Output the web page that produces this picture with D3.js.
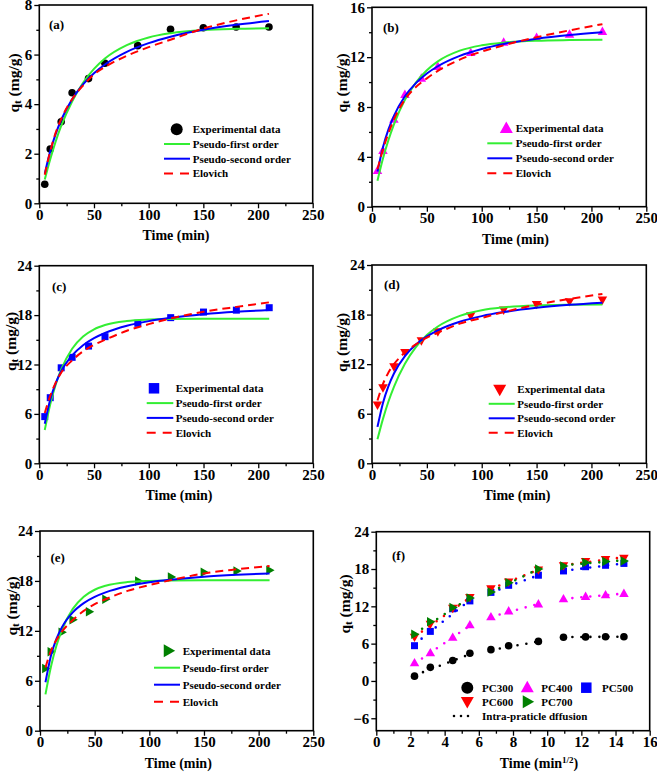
<!DOCTYPE html>
<html><head><meta charset="utf-8">
<script src="https://cdn.jsdelivr.net/npm/d3@7"></script>
<style>
body{margin:0;background:#fff}
svg{display:block;background:#fff}
text{font-family:"Liberation Serif","Times New Roman",serif;font-weight:bold;fill:#000}
</style>
</head><body><svg id="c" width="657" height="772"></svg>
<script>
// ---------- DATA ----------
const times = [5, 10, 20, 30, 45, 60, 90, 120, 150, 180, 210];
const expPC300 = [0.77, 2.19, 3.29, 4.46, 5.03, 5.65, 6.36, 7.02, 7.08, 7.11, 7.11];
const expPC400 = [2.9, 4.5, 7.0, 9.0, 10.3, 11.24, 12.36, 13.19, 13.57, 13.83, 14.05];
const expPC500 = [5.67, 7.97, 11.6, 12.87, 14.24, 15.38, 17.0, 17.69, 18.37, 18.6, 18.9];
const expPC600 = [7.06, 9.16, 11.7, 13.43, 14.84, 15.93, 17.87, 18.56, 19.24, 19.57, 19.77];
const expPC700 = [7.49, 9.5, 11.82, 13.34, 14.3, 15.8, 17.99, 18.47, 19.03, 19.19, 19.27];

const fitTimes = [5, 10, 15, 20, 30, 40, 50, 60, 80, 100, 120, 150, 180, 210];
const pfo300 = [0.96, 1.78, 2.50, 3.12, 4.11, 4.86, 5.42, 5.84, 6.38, 6.69, 6.86, 6.99, 7.04, 7.06];
const pso300 = [1.2, 2.1, 2.8, 3.36, 4.2, 4.8, 5.25, 5.6, 6.11, 6.46, 6.72, 7.0, 7.2, 7.35];
const elo300 = [1.15, 2.1, 2.85, 3.4, 4.2, 4.75, 5.2, 5.5, 5.95, 6.3, 6.6, 7.05, 7.38, 7.65];
const pfo400 = [2.09, 3.86, 5.35, 6.61, 8.57, 9.96, 10.95, 11.66, 12.52, 12.95, 13.17, 13.32, 13.37, 13.39];
const pso400 = [2.82, 4.77, 6.2, 7.29, 8.86, 9.92, 10.69, 11.27, 12.1, 12.65, 13.05, 13.48, 13.78, 14.0];
const elo400 = [3.0, 4.6, 5.9, 7.0, 8.6, 9.6, 10.3, 10.9, 11.8, 12.45, 12.95, 13.6, 14.15, 14.65];
const pfo500 = [4.05, 7.17, 9.57, 11.41, 13.92, 15.4, 16.28, 16.8, 17.29, 17.46, 17.52, 17.55, 17.55, 17.55];
const pso500 = [4.81, 7.75, 9.74, 11.18, 13.1, 14.34, 15.2, 15.83, 16.7, 17.27, 17.67, 18.1, 18.4, 18.61];
const elo500 = [6.1, 8.2, 9.8, 11.0, 12.5, 13.6, 14.4, 15.0, 16.1, 16.9, 17.6, 18.4, 19.0, 19.55];
const pfo600 = [2.91, 5.38, 7.48, 9.26, 12.05, 14.07, 15.52, 16.56, 17.85, 18.53, 18.87, 19.11, 19.2, 19.23];
const pso600 = [4.41, 7.31, 9.35, 10.87, 12.98, 14.37, 15.36, 16.1, 17.13, 17.81, 18.3, 18.82, 19.18, 19.44];
const elo600 = [7.6, 9.6, 11.0, 12.0, 13.4, 14.4, 15.2, 15.8, 16.9, 17.6, 18.3, 19.2, 19.9, 20.5];
const pfo700 = [4.37, 7.69, 10.2, 12.1, 14.64, 16.1, 16.94, 17.42, 17.86, 18.0, 18.05, 18.07, 18.07, 18.07];
const pso700 = [5.82, 9.01, 11.03, 12.42, 14.22, 15.33, 16.08, 16.62, 17.35, 17.83, 18.15, 18.5, 18.73, 18.9];
const elo700 = [7.6, 9.6, 10.9, 11.9, 13.3, 14.4, 15.2, 15.8, 16.8, 17.5, 18.1, 18.9, 19.4, 19.8];

// intra-particle diffusion: three linear stages, x = t^(1/2)
const ipdStageX = [[2.24, 5.48], [6.71, 9.49], [10.95, 14.49]];
const ipd300 = [[0.9, 4.3], [4.95, 6.35], [7.05, 7.12]];
const ipd400 = [[2.8, 8.9], [10.3, 12.4], [13.2, 14.05]];
const ipd500 = [[5.9, 13.0], [14.2, 17.0], [17.7, 18.9]];
const ipd600 = [[7.1, 13.4], [14.8, 17.9], [18.6, 19.9]];
const ipd700 = [[7.6, 13.4], [14.3, 18.0], [18.6, 19.4]];

const seriesNames = ["PC300", "PC400", "PC500", "PC600", "PC700"];
const fitNames = ["Experimental data", "Pseudo-first order", "Pseudo-second order", "Elovich"];
const panelLabels = ["(a)", "(b)", "(c)", "(d)", "(e)", "(f)"];
const xTicksTime = [0, 50, 100, 150, 200, 250];
const xMinorTime = [25, 75, 125, 175, 225];
const xTicksSqrt = [0, 2, 4, 6, 8, 10, 12, 14, 16];
const xMinorSqrt = [1, 3, 5, 7, 9, 11, 13, 15];

// ---------- STYLE ----------
const GREEN = "#33ee33", BLUE = "#0000ff", RED = "#ff0000";
const MCOL = ["#000000", "#ff00ff", "#0000ff", "#ff0000", "#008000"];
const MSHAPE = ["circle", "up", "square", "down", "right"];

const svg = d3.select("#c");

function shapePath(shape, s) {
  if (shape === "circle") return d3.symbol(d3.symbolCircle, Math.PI * (s / 2) * (s / 2))();
  if (shape === "square") return `M${-s/2},${-s/2}h${s}v${s}h${-s}Z`;
  const h = s * 0.88;
  if (shape === "up") return `M0,${-h*0.6}L${s/2},${h*0.4}L${-s/2},${h*0.4}Z`;
  if (shape === "down") return `M0,${h*0.6}L${s/2},${-h*0.4}L${-s/2},${-h*0.4}Z`;
  if (shape === "right") return `M${h*0.6},0L${-h*0.4},${s/2}L${-h*0.4},${-s/2}Z`;
}

function frame(p) {
  const x = d3.scaleLinear().domain(p.xdom).range([p.x0, p.x1]);
  const y = d3.scaleLinear().domain(p.ydom).range([p.yb, p.yt]);
  const g = svg.append("g");
  const ax = (sel) => { sel.select(".domain").remove(); sel.attr("font-size", null).attr("font-family", null);
    sel.selectAll("line").attr("stroke", "#000").attr("stroke-width", 1.3);
    sel.selectAll("text").style("font-size", "15px"); };
  g.append("g").attr("transform", `translate(0,${p.yb})`)
    .call(d3.axisBottom(x).tickValues(p.xt).tickSize(5).tickPadding(1).tickFormat(d3.format("d"))).call(ax);
  g.append("g").attr("transform", `translate(0,${p.yb})`)
    .call(d3.axisBottom(x).tickValues(p.xm).tickSize(3).tickFormat("")).call(ax);
  g.append("g").attr("transform", `translate(${p.x0},0)`)
    .call(d3.axisLeft(y).tickValues(p.yt_).tickSize(5).tickPadding(2).tickFormat(d3.format("d"))).call(ax);
  g.append("g").attr("transform", `translate(${p.x0},0)`)
    .call(d3.axisLeft(y).tickValues(p.ym).tickSize(3).tickFormat("")).call(ax);
  g.append("rect").attr("x", p.x0).attr("y", p.yt).attr("width", p.x1 - p.x0).attr("height", p.yb - p.yt)
    .attr("fill", "none").attr("stroke", "#000").attr("stroke-width", 1.6);
  // axis titles
  const xt = g.append("text").attr("x", p.xtc).attr("y", p.yb + 37).attr("text-anchor", "middle").style("font-size", "14px");
  xt.append("tspan").text(p.sqrt ? "Time (min" : "Time (min)");
  if (p.sqrt) {
    xt.append("tspan").attr("dy", -5).style("font-size", "9px").text("1/2");
    xt.append("tspan").attr("dy", 5).text(")");
  }
  const yt = g.append("text").attr("transform", `translate(${p.ytx},${p.yty}) rotate(-90)`)
    .attr("text-anchor", "middle").attr("dominant-baseline", "central").style("font-size", "15.5px");
  yt.append("tspan").text("q");
  yt.append("tspan").attr("dy", 4).style("font-size", "11px").text("t");
  yt.append("tspan").attr("dy", -4).text(" (mg/g)");
  g.append("text").attr("x", p.lx).attr("y", p.ly).style("font-size", "13px").text(p.label);
  return { x, y, g };
}

const panels = [
  { x0: 39.3, x1: 312.7, yb: 203.3, yt: 5, ydom: [0, 8], yt_: [0, 2, 4, 6, 8], ym: [1, 3, 5, 7],
    xtc: 176, ytx: 13, yty: 83, lx: 49, ly: 29, si: 0, fits: [pfo300, pso300, elo300],
    leg: { mx: 176.7, my: 129.3, tx: 192.7, dy: 14.7, l0: 164, l1: 190 } },
  { x0: 372, x1: 646.3, yb: 206.7, yt: 7.3, ydom: [0, 16], yt_: [0, 4, 8, 12, 16], ym: [2, 6, 10, 14],
    xtc: 515.5, ytx: 341, yty: 83, lx: 383, ly: 32, si: 1, fits: [pfo400, pso400, elo400],
    leg: { mx: 506.3, my: 128.3, tx: 515.7, dy: 15, l0: 487.3, l1: 512.3 } },
  { x0: 39.3, x1: 313, yb: 463.3, yt: 265.7, ydom: [0, 24], yt_: [0, 6, 12, 18, 24], ym: [3, 9, 15, 21],
    xtc: 179, ytx: 9.5, yty: 341.5, lx: 52, ly: 291, si: 2, fits: [pfo500, pso500, elo500],
    leg: { mx: 154, my: 388.3, tx: 175.7, dy: 14.8, l0: 146.7, l1: 173.3 } },
  { x0: 372, x1: 646.3, yb: 463.3, yt: 265, ydom: [0, 24], yt_: [0, 6, 12, 18, 24], ym: [3, 9, 15, 21],
    xtc: 517, ytx: 340.5, yty: 342.5, lx: 384, ly: 289, si: 3, fits: [pfo600, pso600, elo600],
    leg: { mx: 499.7, my: 389.3, tx: 517.3, dy: 14.5, l0: 488.7, l1: 514.7 } },
  { x0: 40, x1: 313.3, yb: 730.7, yt: 531, ydom: [0, 24], yt_: [0, 6, 12, 18, 24], ym: [3, 9, 15, 21],
    xtc: 178.3, ytx: 11, yty: 606, lx: 50.5, ly: 561.5, si: 4, fits: [pfo700, pso700, elo700],
    leg: { mx: 168.3, my: 650.7, tx: 182.7, dy: 17, l0: 154, l1: 180 } }
];
const expAll = [expPC300, expPC400, expPC500, expPC600, expPC700];
const ipdAll = [ipd300, ipd400, ipd500, ipd600, ipd700];

const fitColors = [GREEN, BLUE, RED];
panels.forEach((p, i) => {
  p.xdom = [0, 250]; p.xt = xTicksTime; p.xm = xMinorTime; p.label = panelLabels[i];
  const { x, y, g } = frame(p);
  const exp = expAll[p.si];
  g.append("g").selectAll("path").data(times).join("path")
    .attr("transform", (t, k) => `translate(${x(t)},${y(exp[k])})`)
    .attr("d", shapePath(MSHAPE[p.si], p.si === 0 ? 7.6 : (p.si === 2 ? 7 : 9.5)))
    .attr("fill", MCOL[p.si]);
  const line = d3.line().x((d, k) => x(fitTimes[k])).y(d => y(d)).curve(d3.curveMonotoneX);
  p.fits.forEach((f, k) => {
    g.append("path").attr("d", line(f)).attr("fill", "none").attr("stroke", fitColors[k])
      .attr("stroke-width", 2).attr("stroke-dasharray", k === 2 ? "8 5" : null);
  });
  // legend
  const L = p.leg;
  fitNames.forEach((name, r) => {
    const yy = L.my + r * L.dy;
    if (r === 0) {
      g.append("path").attr("transform", `translate(${L.mx},${yy})`)
        .attr("d", shapePath(MSHAPE[p.si], p.si === 0 ? 12 : (p.si === 2 ? 10.5 : 13))).attr("fill", MCOL[p.si]);
    } else {
      g.append("line").attr("x1", L.l0).attr("x2", L.l1).attr("y1", yy).attr("y2", yy)
        .attr("stroke", fitColors[r - 1]).attr("stroke-width", 2)
        .attr("stroke-dasharray", r === 3 ? "9 7" : null);
    }
    g.append("text").attr("x", L.tx).attr("y", yy).attr("dominant-baseline", "central")
      .style("font-size", "11px").text(name);
  });
});

// panel (f)
const pf = { x0: 376.3, x1: 649.7, yb: 730.7, yt: 531.7, ydom: [-8, 24], yt_: [-6, 0, 6, 12, 18, 24], ym: [-3, 3, 9, 15, 21],
  xdom: [0, 16], xt: xTicksSqrt, xm: xMinorSqrt, xtc: 539, ytx: 344, yty: 604, lx: 392, ly: 560, label: panelLabels[5], sqrt: true };
{
  const { x, y, g } = frame(pf);
  ipdAll.forEach((st, s) => {
    st.forEach((seg, k) => {
      g.append("line").attr("x1", x(ipdStageX[k][0])).attr("x2", x(ipdStageX[k][1]))
        .attr("y1", y(seg[0])).attr("y2", y(seg[1]))
        .attr("stroke", MCOL[s]).attr("stroke-width", 2.6).attr("stroke-linecap", "round")
        .attr("stroke-dasharray", "0 9");
    });
  });
  expAll.forEach((exp, s) => {
    g.append("g").selectAll("path").data(times).join("path")
      .attr("transform", (t, k) => `translate(${x(Math.sqrt(t))},${y(exp[k])})`)
      .attr("d", shapePath(MSHAPE[s], s === 0 ? 7.6 : (s === 2 ? 7 : 9.5)))
      .attr("fill", MCOL[s]);
  });
  // legend
  const legPos = [[467.3, 687.7, 482], [527.3, 687.7, 541.3], [586.3, 687.7, 602], [467.3, 701.7, 482], [527.3, 701.7, 541.3]];
  seriesNames.forEach((n, s) => {
    const [mx, my, tx] = legPos[s];
    g.append("path").attr("transform", `translate(${mx},${my})`)
      .attr("d", shapePath(MSHAPE[s], s === 0 ? 12 : (s === 2 ? 10.5 : 13))).attr("fill", MCOL[s]);
    g.append("text").attr("x", tx).attr("y", my).attr("dominant-baseline", "central").style("font-size", "11px").text(n);
  });
  g.append("line").attr("x1", 454).attr("x2", 475).attr("y1", 716).attr("y2", 716)
    .attr("stroke", "#000").attr("stroke-width", 2.6).attr("stroke-linecap", "round").attr("stroke-dasharray", "0 7");
  g.append("text").attr("x", 482).attr("y", 716).attr("dominant-baseline", "central").style("font-size", "11px")
    .text("Intra-praticle dffusion");
}
</script>
</body></html>
